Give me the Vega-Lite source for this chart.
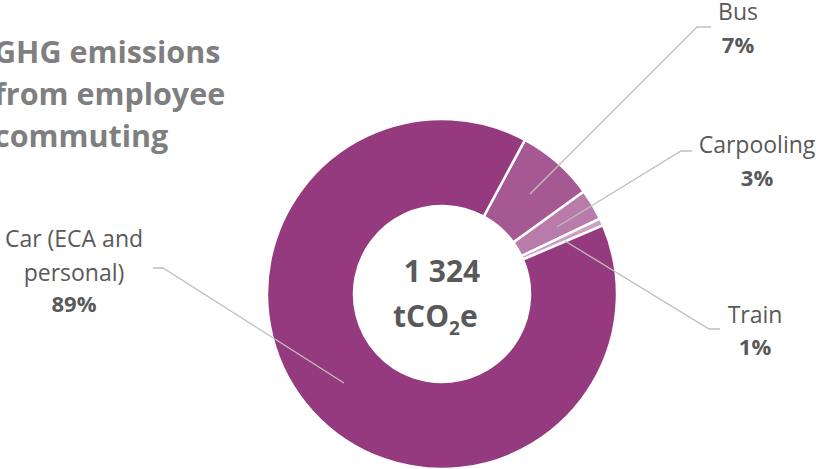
{
  "$schema": "https://vega.github.io/schema/vega-lite/v6.json",
  "width": 816,
  "height": 469,
  "autosize": {"type": "none"},
  "padding": 0,
  "background": "white",
  "config": {"view": {"stroke": null}},
  "datasets": {
    "slices": [
      {"category": "Bus", "tCO2e": 95, "order": 1},
      {"category": "Carpooling", "tCO2e": 38, "order": 2},
      {"category": "Train", "tCO2e": 9, "order": 3},
      {"category": "Car (ECA and personal)", "tCO2e": 1182, "order": 4}
    ],
    "labels": [
      {"category": "Bus", "name": "Bus", "pct": "7%", "lx": 1.6914, "ly": 1.5657, "py": 1.3771},
      {"category": "Carpooling", "name": "Carpooling", "pct": "3%", "lx": 1.8, "ly": 0.8057, "py": 0.6171},
      {"category": "Train", "name": "Train", "pct": "1%", "lx": 1.7886, "ly": -0.1657, "py": -0.3486},
      {"category": "Car (ECA and personal)", "name": "Car (ECA and\npersonal)", "pct": "89%", "lx": -2.1029, "ly": 0.2686, "py": -0.1029}
    ],
    "leaders": [
      {"category": "Bus", "seq": 1, "x": 0.5029, "y": 0.5714},
      {"category": "Bus", "seq": 2, "x": 1.4571, "y": 1.5257},
      {"category": "Bus", "seq": 3, "x": 1.5371, "y": 1.5257},
      {"category": "Carpooling", "seq": 1, "x": 0.6571, "y": 0.3829},
      {"category": "Carpooling", "seq": 2, "x": 1.3657, "y": 0.8171},
      {"category": "Carpooling", "seq": 3, "x": 1.4286, "y": 0.8171},
      {"category": "Train", "seq": 1, "x": 0.7029, "y": 0.3029},
      {"category": "Train", "seq": 2, "x": 1.5257, "y": -0.2},
      {"category": "Train", "seq": 3, "x": 1.5886, "y": -0.2},
      {"category": "Car (ECA and personal)", "seq": 1, "x": -0.56, "y": -0.5086},
      {"category": "Car (ECA and personal)", "seq": 2, "x": -1.5943, "y": 0.1486},
      {"category": "Car (ECA and personal)", "seq": 3, "x": -1.6514, "y": 0.1486}
    ],
    "center": [
      {"total": "1 324", "unit": "tCO", "sub": "2", "unitEnd": "e", "title": "GHG emissions\nfrom employee\ncommuting"}
    ]
  },
  "layer": [
    {
      "data": {"name": "slices"},
      "mark": {"type": "arc", "outerRadius": 175, "innerRadius": 88, "stroke": "white", "strokeWidth": 2.5},
      "encoding": {
        "x": {"datum": 0, "type": "quantitative", "scale": {"domain": [-2.5257, 2.1371], "nice": false, "zero": false}, "axis": null},
        "y": {"datum": 0, "type": "quantitative", "scale": {"domain": [-1.0, 1.68], "nice": false, "zero": false}, "axis": null},
        "theta": {"field": "tCO2e", "type": "quantitative", "stack": true, "scale": {"range": [0.4939, 6.7771]}},
        "order": {"field": "order", "type": "quantitative"},
        "color": {
          "field": "category",
          "type": "nominal",
          "scale": {
            "domain": ["Bus", "Carpooling", "Train", "Car (ECA and personal)"],
            "range": ["#A65892", "#B87BAA", "#CBA0C3", "#953A7F"]
          },
          "legend": null
        }
      }
    },
    {
      "data": {"name": "leaders"},
      "mark": {"type": "line", "color": "#BFBFBF", "strokeWidth": 1.3},
      "encoding": {
        "x": {"field": "x", "type": "quantitative", "scale": {"domain": [-2.5257, 2.1371], "nice": false, "zero": false}, "axis": null},
        "y": {"field": "y", "type": "quantitative", "scale": {"domain": [-1.0, 1.68], "nice": false, "zero": false}, "axis": null},
        "detail": {"field": "category"},
        "order": {"field": "seq", "type": "quantitative"}
      }
    },
    {
      "data": {"name": "labels"},
      "mark": {"type": "text", "font": "Open Sans", "fontSize": 23, "color": "#595959", "align": "center", "baseline": "alphabetic", "lineBreak": "\n", "lineHeight": 34},
      "encoding": {
        "x": {"field": "lx", "type": "quantitative", "scale": {"domain": [-2.5257, 2.1371], "nice": false, "zero": false}, "axis": null},
        "y": {"field": "ly", "type": "quantitative", "scale": {"domain": [-1.0, 1.68], "nice": false, "zero": false}, "axis": null},
        "text": {"field": "name"}
      }
    },
    {
      "data": {"name": "labels"},
      "mark": {"type": "text", "font": "Open Sans", "fontSize": 22, "fontWeight": "bold", "color": "#595959", "align": "center", "baseline": "alphabetic"},
      "encoding": {
        "x": {"field": "lx", "type": "quantitative", "scale": {"domain": [-2.5257, 2.1371], "nice": false, "zero": false}, "axis": null},
        "y": {"field": "py", "type": "quantitative", "scale": {"domain": [-1.0, 1.68], "nice": false, "zero": false}, "axis": null},
        "text": {"field": "pct"}
      }
    },
    {
      "data": {"name": "center"},
      "mark": {"type": "text", "font": "Open Sans", "fontSize": 30, "fontWeight": "bold", "color": "#595959", "align": "center", "baseline": "alphabetic", "dy": -12},
      "encoding": {
        "x": {"datum": 0, "type": "quantitative", "scale": {"domain": [-2.5257, 2.1371], "nice": false, "zero": false}, "axis": null},
        "y": {"datum": 0, "type": "quantitative", "scale": {"domain": [-1.0, 1.68], "nice": false, "zero": false}, "axis": null},
        "text": {"field": "total"}
      }
    },
    {
      "data": {"name": "center"},
      "mark": {"type": "text", "font": "Open Sans", "fontSize": 30, "fontWeight": "bold", "color": "#595959", "align": "right", "baseline": "alphabetic", "dx": 7, "dy": 33},
      "encoding": {
        "x": {"datum": 0, "type": "quantitative", "scale": {"domain": [-2.5257, 2.1371], "nice": false, "zero": false}, "axis": null},
        "y": {"datum": 0, "type": "quantitative", "scale": {"domain": [-1.0, 1.68], "nice": false, "zero": false}, "axis": null},
        "text": {"field": "unit"}
      }
    },
    {
      "data": {"name": "center"},
      "mark": {"type": "text", "font": "Open Sans", "fontSize": 19, "fontWeight": "bold", "color": "#595959", "align": "left", "baseline": "alphabetic", "dx": 7, "dy": 41},
      "encoding": {
        "x": {"datum": 0, "type": "quantitative", "scale": {"domain": [-2.5257, 2.1371], "nice": false, "zero": false}, "axis": null},
        "y": {"datum": 0, "type": "quantitative", "scale": {"domain": [-1.0, 1.68], "nice": false, "zero": false}, "axis": null},
        "text": {"field": "sub"}
      }
    },
    {
      "data": {"name": "center"},
      "mark": {"type": "text", "font": "Open Sans", "fontSize": 30, "fontWeight": "bold", "color": "#595959", "align": "left", "baseline": "alphabetic", "dx": 18, "dy": 33},
      "encoding": {
        "x": {"datum": 0, "type": "quantitative", "scale": {"domain": [-2.5257, 2.1371], "nice": false, "zero": false}, "axis": null},
        "y": {"datum": 0, "type": "quantitative", "scale": {"domain": [-1.0, 1.68], "nice": false, "zero": false}, "axis": null},
        "text": {"field": "unitEnd"}
      }
    },
    {
      "data": {"name": "center"},
      "mark": {"type": "text", "font": "Open Sans", "fontSize": 30.5, "fontWeight": "bold", "color": "#7F7F7F", "align": "left", "baseline": "alphabetic", "lineBreak": "\n", "lineHeight": 42},
      "encoding": {
        "x": {"datum": -2.5600, "type": "quantitative", "scale": {"domain": [-2.5257, 2.1371], "nice": false, "zero": false}, "axis": null},
        "y": {"datum": 1.32, "type": "quantitative", "scale": {"domain": [-1.0, 1.68], "nice": false, "zero": false}, "axis": null},
        "text": {"field": "title"}
      }
    }
  ]
}
